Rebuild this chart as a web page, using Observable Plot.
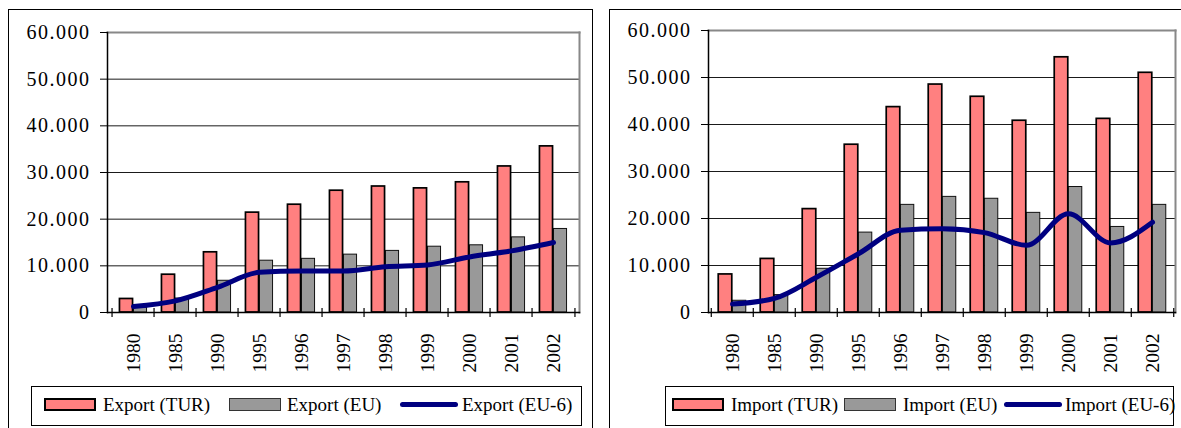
<!DOCTYPE html>
<html><head><meta charset="utf-8">
<script src="https://cdn.jsdelivr.net/npm/d3@7"></script>
<script src="https://cdn.jsdelivr.net/npm/@observablehq/plot@0.6"></script>
<style>
body{margin:0;background:#fff;font-family:'Liberation Serif','Times New Roman',Times,serif;color:#000;}
#page{position:relative;width:1181px;height:428px;overflow:hidden;background:#fff;}
.panel{position:absolute;top:9px;height:440px;border:1.5px solid #000;box-sizing:border-box;}
.chart{position:absolute;top:0;}
.chart text{font-family:'Liberation Serif','Times New Roman',Times,serif;}
.legend{position:absolute;top:386px;height:40px;border:1px solid #000;box-sizing:border-box;background:#fff;}
.txt{position:absolute;top:0;height:36px;display:flex;align-items:center;font-size:19px;white-space:nowrap;font-family:'Liberation Serif','Times New Roman',Times,serif;}
.sw{position:absolute;box-sizing:border-box;}
svg [aria-label="y-axis tick label"] text{letter-spacing:1.5px}
</style>
</head><body>
<div id="page"></div>
<script>
const years = ["1980","1985","1990","1995","1996","1997","1998","1999","2000","2001","2002"];
const yTicks = [0, 10000, 20000, 30000, 40000, 50000, 60000];
const exportTUR = [2900, 8100, 12900, 21400, 23100, 26100, 27000, 26600, 27900, 31300, 35600];
const exportEU  = [1000, 3000, 6800, 11100, 11500, 12400, 13200, 14100, 14400, 16100, 17900];
const exportEU6 = [1300, 2500, 5400, 8600, 8900, 8900, 9800, 10200, 11900, 13200, 15000];
const importTUR = [8100, 11400, 22000, 35700, 43700, 48500, 45900, 40800, 54300, 41200, 51000];
const importEU  = [2500, 3700, 9300, 17000, 22900, 24600, 24200, 21200, 26700, 18200, 22900];
const importEU6 = [1800, 3000, 7500, 12500, 17500, 17800, 17000, 14300, 21000, 14800, 19200];
const exportLabels = ["Export (TUR)", "Export (EU)", "Export (EU-6)"];
const importLabels = ["Import (TUR)", "Import (EU)", "Import (EU-6)"];

const RED = "#FF8080", GRAY = "#999999", NAVY = "#000080";
const FONT = "'Liberation Serif','Times New Roman',Times,serif";
const fmt = d => d3.format(",")(d).replace(/,/g, ".");

function chart({tur, eu, eu6, width, mL, mR, mT}) {
  const H = 380, mB = 68;
  const bw = (width - mL - mR) / years.length;
  const rows = years.map((y, i) => ({year: y, tur: tur[i], eu: eu[i], eu6: eu6[i]}));
  return Plot.plot({
    width, height: H, marginLeft: mL, marginRight: mR, marginTop: mT, marginBottom: mB,
    style: {fontFamily: FONT, background: "transparent", overflow: "visible", color: "#000"},
    x: {domain: years, padding: 0, axis: null},
    y: {domain: [0, 60000], axis: null},
    marks: [
      Plot.gridY(yTicks, {stroke: "#1a1a1a", strokeOpacity: 1, strokeWidth: 1}),
      Plot.frame({anchor: "top", stroke: "#888", strokeWidth: 2}),
      Plot.frame({anchor: "right", stroke: "#888", strokeWidth: 2}),
      Plot.barY(rows, {x: "year", y: "eu", fill: GRAY, stroke: "#111", strokeWidth: 1, insetLeft: bw / 2, insetRight: bw / 2 - 14}),
      Plot.barY(rows, {x: "year", y: "tur", fill: RED, stroke: "#000", strokeWidth: 1.7, insetLeft: bw / 2 - 14, insetRight: bw / 2}),
      Plot.line(rows, {x: "year", y: "eu6", stroke: NAVY, strokeWidth: 5, curve: "monotone-x", strokeLinecap: "round", strokeLinejoin: "round"}),
      Plot.frame({anchor: "left", stroke: "#000", strokeWidth: 1.5}),
      Plot.frame({anchor: "bottom", stroke: "#000", strokeWidth: 1.5}),
      Plot.axisY({ticks: yTicks, tickSize: 7, tickPadding: 10, tickFormat: fmt, fontSize: 20, label: null}),
      Plot.axisX({ticks: years, tickSize: 9, dy: -4, dx: -bw / 2, tickFormat: () => "", strokeWidth: 1.2, label: null}),
      Plot.axisX({ticks: [years[years.length - 1]], tickSize: 9, dy: -4, dx: bw / 2, tickFormat: () => "", strokeWidth: 1.2, label: null}),
      Plot.axisX({tickSize: 0, tickRotate: -90, tickPadding: 21, fontSize: 19.5, label: null})
    ]
  });
}

function legend(left, width, labels, pos) {
  const el = document.createElement("div");
  el.className = "legend";
  el.style.left = left + "px";
  el.style.width = width + "px";
  const [s1, t1, s2, t2, s3, t3] = pos;
  el.innerHTML =
    `<div class="sw" style="left:${s1}px;top:11px;width:52px;height:13px;background:${RED};border:2px solid #000"></div>` +
    `<div class="txt" style="left:${t1}px">${labels[0]}</div>` +
    `<div class="sw" style="left:${s2}px;top:11px;width:52px;height:13px;background:${GRAY};border:1px solid #333"></div>` +
    `<div class="txt" style="left:${t2}px">${labels[1]}</div>` +
    `<div class="sw" style="left:${s3}px;top:15px;width:58px;height:5px;background:${NAVY};border-radius:3px"></div>` +
    `<div class="txt" style="left:${t3}px">${labels[2]}</div>`;
  return el;
}

const page = document.getElementById("page");
const p1 = document.createElement("div"); p1.className = "panel"; p1.style.left = "8px"; p1.style.width = "585px"; page.appendChild(p1);
const p2 = document.createElement("div"); p2.className = "panel"; p2.style.left = "609px"; p2.style.width = "600px"; page.appendChild(p2);

const c1 = chart({tur: exportTUR, eu: exportEU, eu6: exportEU6, width: 600, mL: 107, mR: 21, mT: 32});
c1.classList.add("chart"); c1.style.left = "0px"; page.appendChild(c1);
const c2 = chart({tur: importTUR, eu: importEU, eu6: importEU6, width: 581, mL: 108, mR: 6, mT: 30});
c2.classList.add("chart"); c2.style.left = "600px"; page.appendChild(c2);

page.appendChild(legend(31, 551, exportLabels, [12, 71, 197, 255, 368, 430]));
page.appendChild(legend(665, 509, importLabels, [6, 65, 178, 237, 338, 399]));
</script>
</body></html>
